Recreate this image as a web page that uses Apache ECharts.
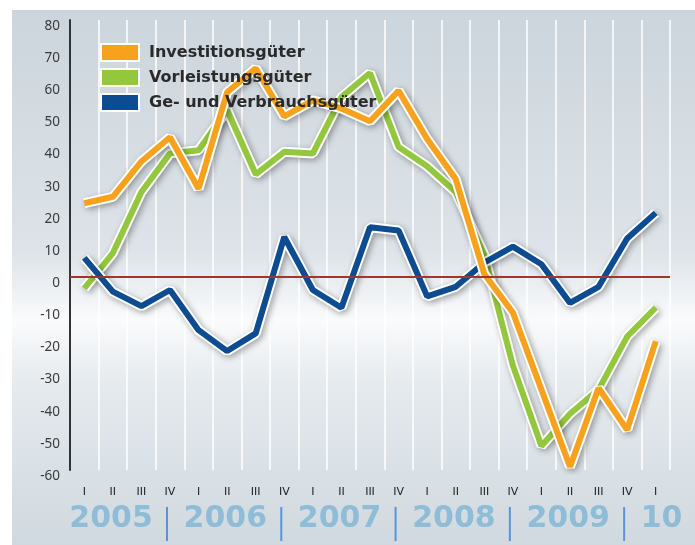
<!DOCTYPE html>
<html>
<head>
<meta charset="utf-8">
<script src="https://cdn.jsdelivr.net/npm/echarts@6/dist/echarts.min.js"></script>
<style>
  html, body { margin: 0; padding: 0; background: #fff; }
  #chart { width: 695px; height: 545px; }
</style>
</head>
<body>
<div id="chart"></div>
<script>
// Quartale 2005 I bis 2010 I
var quarters = ['I', 'II', 'III', 'IV', 'I', 'II', 'III', 'IV', 'I', 'II', 'III', 'IV',
                'I', 'II', 'III', 'IV', 'I', 'II', 'III', 'IV', 'I'];
var years = ['2005', '2006', '2007', '2008', '2009', '10'];

var investition = [23, 25, 36, 43.5, 27.5, 57.5, 65, 50, 55, 52.5, 48.5, 58,
                   43, 30.5, 1, -11, -35, -59, -34.5, -47.5, -20];
var vorleistung = [-3.5, 7.5, 26.5, 38.5, 39.5, 52, 32, 39, 38.5, 56, 63.5, 40.5,
                   34.5, 26.5, 7, -27.5, -52.5, -42.5, -35, -18.5, -9.5];
var verbrauch = [6, -4.5, -9, -4, -16.5, -23, -17.5, 12.5, -4, -9.5, 15.5, 14.5,
                 -6, -3, 4.5, 9.5, 4, -8, -3, 12, 20];

var names = ['Investitionsgüter', 'Vorleistungsgüter', 'Ge- und Verbrauchsgüter'];
var colors = ['#f7a11c', '#93c83e', '#0d4c91'];

var myChart = echarts.init(document.getElementById('chart'));

// weiße Kontur unter jeder Linie
function outline(name, data) {
    return {
        name: name + '_kontur',
        type: 'line',
        data: data,
        symbol: 'none',
        silent: true,
        lineStyle: {
            color: '#ffffff',
            width: 10,
            shadowColor: 'rgba(0,0,0,0.35)',
            shadowBlur: 6,
            shadowOffsetX: 2,
            shadowOffsetY: 2
        }
    };
}
function colored(name, data, color) {
    return {
        name: name,
        type: 'line',
        data: data,
        symbol: 'none',
        itemStyle: { color: color },
        lineStyle: { color: color, width: 6 }
    };
}

var greenBack = outline(names[1], vorleistung);
greenBack.markLine = {
    silent: true,
    symbol: 'none',
    label: { show: false },
    lineStyle: { color: '#a5342a', width: 2, type: 'solid' },
    data: [{ yAxis: 0 }]
};

var option = {
    animation: false,
    graphic: [{
        type: 'rect',
        z: -100,
        shape: { x: 12, y: 10, width: 683, height: 535 },
        style: {
            fill: new echarts.graphic.LinearGradient(0, 0, 0, 1, [
                { offset: 0, color: '#ccd5dc' },
                { offset: 0.45, color: '#dde3e8' },
                { offset: 0.58, color: '#fafbfc' },
                { offset: 0.7, color: '#e5eaee' },
                { offset: 1, color: '#d0d9df' }
            ])
        }
    }],
    legend: {
        orient: 'vertical',
        left: 100,
        top: 43,
        padding: 0,
        itemWidth: 38,
        itemHeight: 17,
        itemGap: 6,
        icon: 'rect',
        data: names.map(function (n, i) {
            return { name: n, itemStyle: { color: colors[i], borderColor: '#fff', borderWidth: 2 } };
        }),
        textStyle: {
            fontFamily: 'DejaVu Sans',
            fontWeight: 'bold',
            fontSize: 16,
            lineHeight: 17,
            color: '#2a2a2a',
            padding: [0, 0, 0, 5]
        }
    },
    grid: {
        left: 70,
        right: 25,
        top: 20,
        bottom: 75
    },
    xAxis: {
        type: 'category',
        data: quarters,
        boundaryGap: true,
        axisLine: { show: false },
        axisTick: { show: false },
        axisLabel: {
            interval: 0,
            margin: 17,
            fontFamily: 'DejaVu Sans',
            fontSize: 11,
            color: '#222'
        },
        splitLine: {
            show: true,
            interval: 0,
            lineStyle: { color: '#ffffff', width: 1.5 }
        }
    },
    yAxis: {
        type: 'value',
        min: -60,
        max: 80,
        interval: 10,
        axisLine: { show: true, lineStyle: { color: '#333', width: 2 } },
        axisTick: { show: false },
        splitLine: { show: false },
        axisLabel: {
            margin: 10,
            fontFamily: 'Noto Sans',
            fontSize: 13.5,
            color: '#3a3a3a',
            verticalAlign: 'top',
            lineHeight: 12
        }
    },
    series: [
        greenBack,
        colored(names[1], vorleistung, colors[1]),
        outline(names[2], verbrauch),
        colored(names[2], verbrauch, colors[2]),
        outline(names[0], investition),
        colored(names[0], investition, colors[0])
    ]
};
myChart.setOption(option);

// Jahreszahlen und Trennstriche an den Kategorien ausrichten
var extra = option.graphic.slice();
years.forEach(function (y, k) {
    var x0 = myChart.convertToPixel({ xAxisIndex: 0 }, 4 * k);
    extra.push({
        type: 'text',
        z: 10,
        style: {
            x: x0 - 15,
            y: 519,
            text: y,
            fontFamily: 'DejaVu Sans',
            fontWeight: 'bold',
            fontSize: 30,
            fill: '#8fbcd6',
            textVerticalAlign: 'middle',
            verticalAlign: 'middle',
            align: 'left'
        }
    });
    if (k < years.length - 1) {
        var xs = myChart.convertToPixel({ xAxisIndex: 0 }, 4 * k + 3) - 3;
        extra.push({
            type: 'line',
            z: 10,
            shape: { x1: xs, y1: 507, x2: xs, y2: 541 },
            style: { stroke: '#5b94d6', lineWidth: 2 }
        });
    }
});
myChart.setOption({ graphic: extra });

window.addEventListener('resize', function () {
    myChart.resize();
});
</script>
</body>
</html>
